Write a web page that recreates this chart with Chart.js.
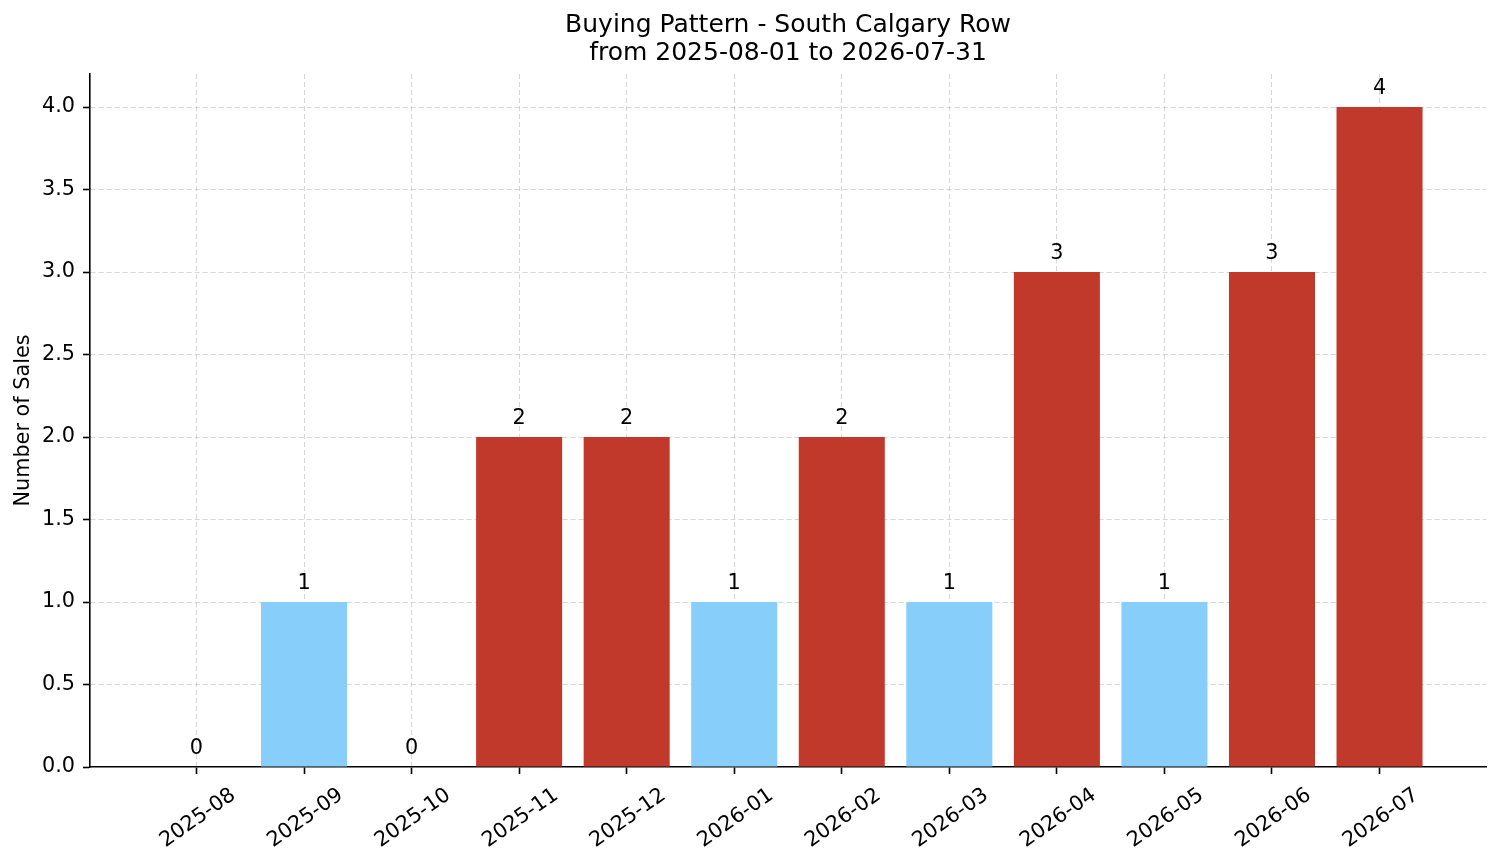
<!DOCTYPE html>
<html>
<head>
<meta charset="utf-8">
<script src="https://cdn.jsdelivr.net/npm/chart.js@4"></script>
<style>
  html, body { margin: 0; padding: 0; background: #fff; }
  #wrap { width: 1501px; height: 863px; }
</style>
</head>
<body>
<div id="wrap"><canvas id="salesChart" width="1501" height="863"></canvas></div>
<script>
// Chart data
const months = ['2025-08', '2025-09', '2025-10', '2025-11', '2025-12', '2026-01',
                '2026-02', '2026-03', '2026-04', '2026-05', '2026-06', '2026-07'];
const sales = [0, 1, 0, 2, 2, 1, 2, 1, 3, 1, 3, 4];
const yTicks = [0, 0.5, 1, 1.5, 2, 2.5, 3, 3.5, 4];
const titleLines = ['Buying Pattern - South Calgary Row', 'from 2025-08-01 to 2026-07-31'];

const RED = '#c0392b';
const BLUE = '#87cefa';
const FONT = 'DejaVu Sans';
const FS = 20.8;

// busier months are red, the rest light blue
const barColors = sales.map(v => v >= 2 ? RED : BLUE);

// write the count above each bar
const barLabels = {
    id: 'barLabels',
    afterDatasetsDraw(chart) {
        const ctx = chart.ctx;
        const meta = chart.getDatasetMeta(0);
        ctx.save();
        ctx.font = FS + 'px "' + FONT + '"';
        ctx.fillStyle = '#000';
        ctx.textAlign = 'center';
        ctx.textBaseline = 'alphabetic';
        meta.data.forEach((bar, i) => {
            ctx.fillText(String(sales[i]), bar.x, bar.y - 13);
        });
        ctx.restore();
    }
};

const gridColor = 'rgba(176,176,176,0.5)';

new Chart(document.getElementById('salesChart').getContext('2d'), {
    type: 'bar',
    data: {
        datasets: [{
            data: sales.map((v, i) => ({ x: i, y: v })),
            backgroundColor: barColors,
            borderWidth: 0,
            barPercentage: 0.8,
            categoryPercentage: 1
        }]
    },
    options: {
        responsive: false,
        devicePixelRatio: 1,
        animation: false,
        layout: { padding: { top: 0, right: 15, left: 0, bottom: 0 } },
        plugins: {
            legend: { display: false },
            tooltip: { enabled: false },
            title: {
                display: true,
                fullSize: false,
                text: titleLines,
                color: '#000',
                font: { family: FONT, size: 25, weight: 'normal', lineHeight: 1.12 },
                padding: { top: 11, bottom: 7 }
            }
        },
        scales: {
            x: {
                type: 'linear',
                min: -0.99,
                max: 11.99,
                offset: false,
                z: 1,
                afterBuildTicks: scale => { scale.ticks = months.map((m, i) => ({ value: i })); },
                afterFit: scale => { scale.height = 96; },
                grid: {
                    offset: false,
                    color: gridColor,
                    drawTicks: true,
                    tickLength: 7,
                    tickColor: '#000',
                    tickWidth: 1.6,
                    tickBorderDash: []
                },
                border: { display: true, color: '#000', width: 1.6, dash: [5, 3] },
                ticks: {
                    autoSkip: false,
                    minRotation: 35,
                    maxRotation: 35,
                    padding: 9,
                    labelOffset: 37,
                    color: '#000',
                    font: { family: FONT, size: FS },
                    callback: v => months[v]
                }
            },
            y: {
                min: 0,
                max: 4.2,
                z: 1,
                afterBuildTicks: scale => { scale.ticks = yTicks.map(v => ({ value: v })); },
                afterFit: scale => { scale.width = 90; },
                grid: {
                    color: c => (c.tick && c.tick.value === 0) ? 'rgba(0,0,0,0)' : gridColor,
                    drawTicks: true,
                    tickLength: 7,
                    tickColor: '#000',
                    tickWidth: 1.6,
                    tickBorderDash: []
                },
                border: { display: true, color: '#000', width: 1.6, dash: [5, 3] },
                ticks: {
                    padding: 8,
                    color: '#000',
                    font: { family: FONT, size: FS },
                    callback: v => v.toFixed(1)
                },
                title: {
                    display: true,
                    text: 'Number of Sales',
                    color: '#000',
                    font: { family: FONT, size: FS },
                    padding: { top: 11, bottom: 0 }
                }
            }
        }
    },
    plugins: [barLabels]
});
</script>
</body>
</html>
